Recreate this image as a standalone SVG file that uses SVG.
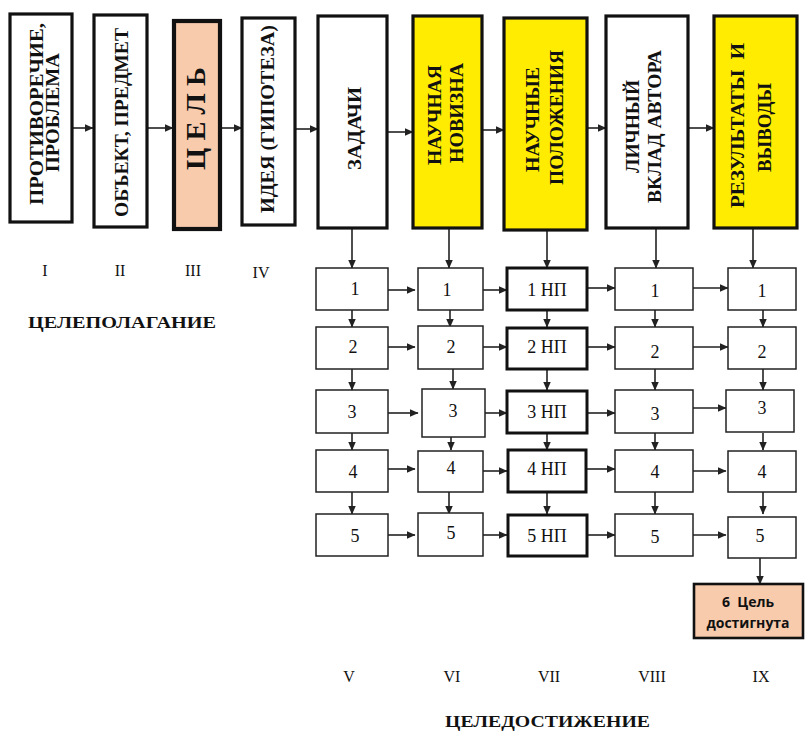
<svg xmlns="http://www.w3.org/2000/svg" width="811" height="734" viewBox="0 0 811 734">
<style>
.big{fill:#fff;stroke:#111;stroke-width:3.2}
.yel{fill:#ffec00}
.peach{fill:#f8cbad}
.cell{fill:#fff;stroke:#222;stroke-width:1.5}
.np{fill:#fff;stroke:#111;stroke-width:3}
.vt{font-family:"Liberation Serif",serif;font-weight:bold;font-size:18px;fill:#111;text-anchor:middle}
.num{font-family:"Liberation Serif",serif;font-size:18px;fill:#111;text-anchor:middle}
.rom{font-family:"Liberation Serif",serif;font-size:16px;fill:#111;text-anchor:middle}
.hd{font-family:"Liberation Serif",serif;font-weight:bold;font-size:17px;fill:#111}
.c{stroke:#222;stroke-width:1.6;fill:none;marker-end:url(#ah)}
</style>
<defs>
<marker id="ah" markerWidth="9" markerHeight="8" refX="8.5" refY="4" orient="auto" markerUnits="userSpaceOnUse">
<path d="M0,0 L9,4 L0,8 Z" fill="#222"/>
</marker>
</defs>
<rect width="811" height="734" fill="#fff"/>

<g id="connectors">
<path class="c" d="M72,128 H93"/>
<path class="c" d="M147,128 H173"/>
<path class="c" d="M220,128 H242"/>
<path class="c" d="M295,129 H318"/>
<path class="c" d="M387,132 H413"/>
<path class="c" d="M482,130 H504"/>
<path class="c" d="M588,128 H606"/>
<path class="c" d="M688,128 H714"/>
<path class="c" d="M352,228 V268"/>
<path class="c" d="M449,228 V268"/>
<path class="c" d="M547,230 V268"/>
<path class="c" d="M656,228 V268"/>
<path class="c" d="M753,228 V268"/>
<path class="c" d="M388,290 H415"/>
<path class="c" d="M483,290 H507"/>
<path class="c" d="M587,288 H615"/>
<path class="c" d="M693,288 H728"/>
<path class="c" d="M388,347 H415"/>
<path class="c" d="M483,347 H507"/>
<path class="c" d="M587,347 H615"/>
<path class="c" d="M693,347 H728"/>
<path class="c" d="M388,413 H418"/>
<path class="c" d="M485,413 H507"/>
<path class="c" d="M587,413 H615"/>
<path class="c" d="M693,408 H726"/>
<path class="c" d="M388,469 H415"/>
<path class="c" d="M483,471 H507"/>
<path class="c" d="M587,469 H615"/>
<path class="c" d="M693,471 H726"/>
<path class="c" d="M388,535 H415"/>
<path class="c" d="M483,535 H507"/>
<path class="c" d="M587,535 H615"/>
<path class="c" d="M693,535 H726"/>
<path class="c" d="M352,310 V327"/>
<path class="c" d="M450,310 V327"/>
<path class="c" d="M547,310 V327"/>
<path class="c" d="M655,310 V327"/>
<path class="c" d="M763,310 V327"/>
<path class="c" d="M352,369 V390"/>
<path class="c" d="M453,369 V389"/>
<path class="c" d="M547,369 V390"/>
<path class="c" d="M655,369 V390"/>
<path class="c" d="M763,369 V390"/>
<path class="c" d="M352,433 V450"/>
<path class="c" d="M451,437 V450"/>
<path class="c" d="M547,433 V450"/>
<path class="c" d="M655,433 V450"/>
<path class="c" d="M763,433 V450"/>
<path class="c" d="M352,492 V514"/>
<path class="c" d="M449,492 V514"/>
<path class="c" d="M547,492 V514"/>
<path class="c" d="M655,492 V514"/>
<path class="c" d="M763,492 V514"/>
<path class="c" d="M760,556 V584"/>
</g>

<g id="n-I"><rect class="big" x="10" y="14" width="62" height="208"/>
<text class="vt" transform="translate(42.5,114) rotate(-90)" textLength="182" lengthAdjust="spacingAndGlyphs">ПРОТИВОРЕЧИЕ,</text>
<text class="vt" transform="translate(58.5,112.5) rotate(-90)" textLength="119" lengthAdjust="spacingAndGlyphs">ПРОБЛЕМА</text></g>
<g id="n-II"><rect class="big" x="94" y="15" width="53" height="212"/>
<text class="vt" transform="translate(127.5,122.5) rotate(-90)" textLength="189" lengthAdjust="spacingAndGlyphs">ОБЪЕКТ, ПРЕДМЕТ</text></g>
<g id="n-III"><rect class="big peach" x="174" y="21" width="46" height="208" style="stroke-width:4.2"/>
<text class="vt" transform="translate(204.5,118.5) rotate(-90)" style="font-size:27px" textLength="103" lengthAdjust="spacingAndGlyphs">Ц Е Л Ь</text></g>
<g id="n-IV"><rect class="big" x="242" y="18" width="53" height="207"/>
<text class="vt" transform="translate(274,119) rotate(-90)" textLength="188" lengthAdjust="spacingAndGlyphs">ИДЕЯ (ГИПОТЕЗА)</text></g>
<g id="n-V"><rect class="big" x="318" y="16" width="69" height="212"/>
<text class="vt" transform="translate(361,128.5) rotate(-90)" textLength="83" lengthAdjust="spacingAndGlyphs">ЗАДАЧИ</text></g>
<g id="n-VI"><rect class="big yel" x="413" y="16" width="69" height="212"/>
<text class="vt" transform="translate(441,115) rotate(-90)" textLength="100" lengthAdjust="spacingAndGlyphs">НАУЧНАЯ</text>
<text class="vt" transform="translate(463,113) rotate(-90)" textLength="100" lengthAdjust="spacingAndGlyphs">НОВИЗНА</text></g>
<g id="n-VII"><rect class="big yel" x="504" y="18" width="83" height="212"/>
<text class="vt" transform="translate(539,119.5) rotate(-90)" textLength="105" lengthAdjust="spacingAndGlyphs">НАУЧНЫЕ</text>
<text class="vt" transform="translate(563,117.5) rotate(-90)" textLength="135" lengthAdjust="spacingAndGlyphs">ПОЛОЖЕНИЯ</text></g>
<g id="n-VIII"><rect class="big" x="606" y="16" width="82" height="212"/>
<text class="vt" transform="translate(639,126.5) rotate(-90)" textLength="93" lengthAdjust="spacingAndGlyphs">ЛИЧНЫЙ</text>
<text class="vt" transform="translate(661,126.5) rotate(-90)" textLength="153" lengthAdjust="spacingAndGlyphs">ВКЛАД АВТОРА</text></g>
<g id="n-IX"><rect class="big yel" x="714" y="16" width="83" height="212"/>
<text class="vt" transform="translate(744,125.5) rotate(-90)" textLength="165" lengthAdjust="spacingAndGlyphs">РЕЗУЛЬТАТЫ&#160; И</text>
<text class="vt" transform="translate(771,127.5) rotate(-90)" textLength="89" lengthAdjust="spacingAndGlyphs">ВЫВОДЫ</text></g>

<g id="v1"><rect class="cell" x="316" y="268" width="72" height="42"/><text class="num" x="355" y="295">1</text></g>
<g id="v2"><rect class="cell" x="316" y="327" width="72" height="42"/><text class="num" x="353" y="353">2</text></g>
<g id="v3"><rect class="cell" x="316" y="390" width="72" height="43"/><text class="num" x="352" y="418">3</text></g>
<g id="v4"><rect class="cell" x="316" y="450" width="72" height="42"/><text class="num" x="353" y="478">4</text></g>
<g id="v5"><rect class="cell" x="316" y="514" width="72" height="42"/><text class="num" x="355" y="542">5</text></g>

<g id="vi1"><rect class="cell" x="418" y="268" width="65" height="42"/><text class="num" x="447" y="296">1</text></g>
<g id="vi2"><rect class="cell" x="418" y="326" width="65" height="43"/><text class="num" x="451" y="353">2</text></g>
<g id="vi3"><rect class="cell" x="422" y="389" width="63" height="48"/><text class="num" x="453" y="417">3</text></g>
<g id="vi4"><rect class="cell" x="418" y="451" width="65" height="41"/><text class="num" x="451" y="474">4</text></g>
<g id="vi5"><rect class="cell" x="418" y="513" width="65" height="43"/><text class="num" x="451" y="539">5</text></g>

<g id="vii1"><rect class="np" x="507" y="268" width="80" height="42"/><text class="num" x="547" y="296">1 НП</text></g>
<g id="vii2"><rect class="np" x="507" y="328" width="80" height="41"/><text class="num" x="547" y="353">2 НП</text></g>
<g id="vii3"><rect class="np" x="507" y="391" width="80" height="42"/><text class="num" x="547" y="418">3 НП</text></g>
<g id="vii4"><rect class="np" x="508" y="450" width="78" height="42"/><text class="num" x="547" y="475">4 НП</text></g>
<g id="vii5"><rect class="np" x="508" y="515" width="79" height="41"/><text class="num" x="547" y="542">5 НП</text></g>

<g id="viii1"><rect class="cell" x="615" y="268" width="78" height="42"/><text class="num" x="655" y="297">1</text></g>
<g id="viii2"><rect class="cell" x="615" y="327" width="78" height="42"/><text class="num" x="655" y="358">2</text></g>
<g id="viii3"><rect class="cell" x="615" y="390" width="78" height="43"/><text class="num" x="655" y="420">3</text></g>
<g id="viii4"><rect class="cell" x="615" y="450" width="78" height="42"/><text class="num" x="655" y="478">4</text></g>
<g id="viii5"><rect class="cell" x="615" y="514" width="78" height="42"/><text class="num" x="655" y="543">5</text></g>

<g id="ix1"><rect class="cell" x="728" y="268" width="68" height="42"/><text class="num" x="762" y="297">1</text></g>
<g id="ix2"><rect class="cell" x="728" y="327" width="68" height="42"/><text class="num" x="762" y="358">2</text></g>
<g id="ix3"><rect class="cell" x="726" y="390" width="68" height="42"/><text class="num" x="762" y="414">3</text></g>
<g id="ix4"><rect class="cell" x="728" y="451" width="68" height="41"/><text class="num" x="762" y="478">4</text></g>
<g id="ix5"><rect class="cell" x="728" y="517" width="68" height="41"/><text class="num" x="760" y="542">5</text></g>

<g id="goal"><rect x="694" y="584" width="109" height="54" fill="#f8cbad" stroke="#111" stroke-width="2.6"/>
<text x="748" y="607" style="font-family:'Open Sans','Liberation Sans',sans-serif;font-weight:bold;font-size:14px;fill:#111;text-anchor:middle">6&#160; Цель</text>
<text x="748" y="628" style="font-family:'Open Sans','Liberation Sans',sans-serif;font-weight:bold;font-size:14px;fill:#111;text-anchor:middle">достигнута</text></g>

<g id="labels">
<text class="rom" x="45" y="276">I</text>
<text class="rom" x="120" y="276">II</text>
<text class="rom" x="193" y="276">III</text>
<text class="rom" x="261" y="278">IV</text>
<text class="hd" x="28" y="328" textLength="188" lengthAdjust="spacingAndGlyphs">ЦЕЛЕПОЛАГАНИЕ</text>
<text class="rom" x="349" y="682">V</text>
<text class="rom" x="452" y="682">VI</text>
<text class="rom" x="549" y="682">VII</text>
<text class="rom" x="652" y="682">VIII</text>
<text class="rom" x="761" y="682">IX</text>
<text class="hd" x="445" y="727" textLength="205" lengthAdjust="spacingAndGlyphs">ЦЕЛЕДОСТИЖЕНИЕ</text>
</g>
</svg>
